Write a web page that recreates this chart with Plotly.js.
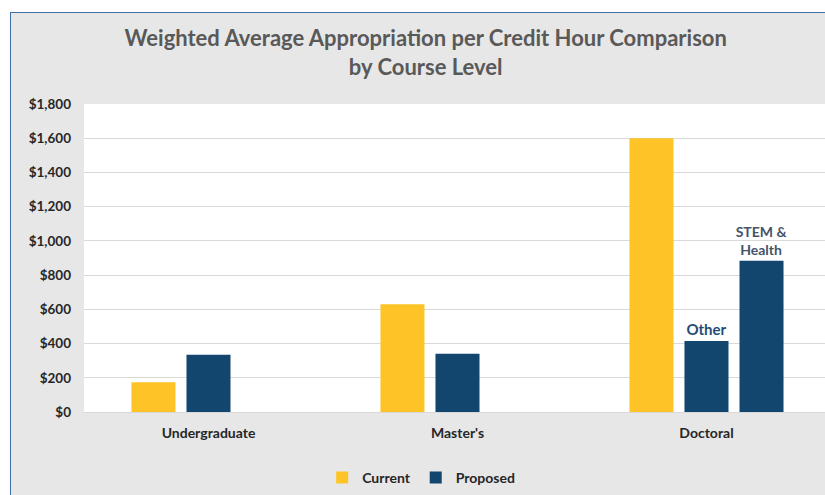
<!DOCTYPE html>
<html><head><meta charset="utf-8">
<script src="https://cdn.plot.ly/plotly-3.0.1.min.js"></script>
<style>
html,body{margin:0;padding:0;background:#fff;width:825px;height:495px;overflow:hidden;}
#frame{position:absolute;left:10px;top:12px;width:820px;height:490px;background:#E7E7E7;border-left:1.5px solid #3F6FA6;border-top:1.5px solid #3F6FA6;}
#chart{position:absolute;left:0;top:0;width:825px;height:495px;}
</style></head>
<body>
<div id="frame"></div>
<div id="chart"></div>
<script>
const categories = ["Undergraduate", "Master's", "Doctoral"];
const currentValues = [174, 630, 1600];
const proposedValues = [334, 340, 415];
const proposedStemValues = [null, null, 884];
const proposedLabels = ["", "", "Other"];
const stemLabels = ["", "", "STEM &<br>Health"];
const yTicks = [0, 200, 400, 600, 800, 1000, 1200, 1400, 1600, 1800];
const yTickText = yTicks.map(v => '$' + v.toLocaleString('en-US'));

const FONT = "Lato, 'Open Sans', sans-serif";
const traces = [
  {type:'bar', name:'Current', x:categories, y:currentValues,
   marker:{color:'#FEC326'}, hoverinfo:'skip'},
  {type:'bar', name:'Proposed', x:categories, y:proposedValues,
   marker:{color:'#12466F'}, text:proposedLabels, textposition:'outside', constraintext:'none',
   textfont:{family:FONT, size:15, color:'#1F4E79', weight:'bold'}, cliponaxis:false, hoverinfo:'skip'},
  {type:'bar', name:'Proposed STEM', x:categories, y:proposedStemValues, showlegend:false,
   marker:{color:'#12466F'}, text:stemLabels, textposition:'outside', constraintext:'none',
   textfont:{family:FONT, size:14, color:'#44546A', weight:'bold'}, cliponaxis:false, hoverinfo:'skip'}
];
const layout = {
  width:825, height:495,
  margin:{l:84, r:0, t:104, b:83},
  paper_bgcolor:'rgba(0,0,0,0)', plot_bgcolor:'#FFFFFF',
  barmode:'group', bargap:0.337, bargroupgap:0.2,
  font:{family:FONT, color:'#262626'},
  title:{text:'Weighted Average Appropriation per Credit Hour Comparison<br>by Course Level',
    x:0.516, xref:'container', xanchor:'center', y:1-46/495, yref:'container', yanchor:'middle',
    font:{family:FONT, size:22, color:'#595959', weight:'bold'}},
  xaxis:{type:'category', range:[-0.5, 2.476], showgrid:false, zeroline:false,
    showline:true, linecolor:'#D9D9D9', linewidth:1, ticks:'', ticklabelstandoff:8,
    tickfont:{family:FONT, size:14, color:'#262626', weight:'bold'}},
  yaxis:{range:[0,1800], tickvals:yTicks, ticktext:yTickText,
    showgrid:true, gridcolor:'#D9D9D9', gridwidth:1, zeroline:false, ticks:'',
    ticklabelstandoff:12, tickfont:{family:FONT, size:13.5, color:'#262626', weight:'bold'}},
  legend:{orientation:'h', x:0.455, xanchor:'center', y:(412-478)/308, yanchor:'middle',
    bgcolor:'rgba(0,0,0,0)', font:{family:FONT, size:14, color:'#262626', weight:'bold'},
    itemwidth:30, traceorder:'normal'},
  showlegend:true
};
Plotly.newPlot('chart', traces, layout, {displayModeBar:false, staticPlot:true});
</script>
</body></html>
